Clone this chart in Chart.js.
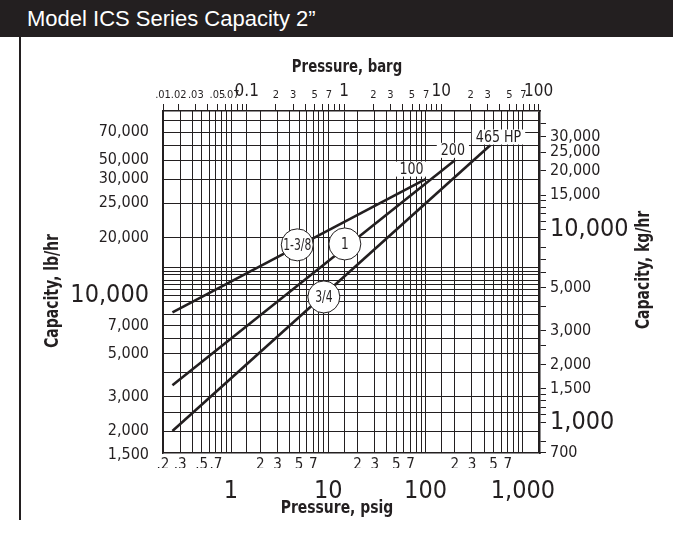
<!DOCTYPE html>
<html>
<head>
<meta charset="utf-8">
<title>Model ICS Series Capacity 2"</title>
<script src="https://cdn.jsdelivr.net/npm/chart.js@4.4.1/dist/chart.umd.min.js"></script>
<style>
  body { margin: 0; background: #fff; }
  #page { position: relative; width: 673px; height: 535px; overflow: hidden; background: #fff; }
  #bar { position: absolute; left: 0; top: 0; width: 673px; height: 37px; background: #231f20; color: #fff;
         font: 22px "Liberation Sans", Arial, sans-serif; line-height: 38px; padding-left: 27px; box-sizing: border-box; }
  #edge { position: absolute; left: 19px; top: 37px; width: 2px; height: 483px; background: #231f20; }
  #chart { position: absolute; left: 0; top: 0; }
</style>
</head>
<body>
<div id="page">
  <canvas id="chart" width="673" height="535"></canvas>
  <div id="bar">Model ICS Series Capacity 2”</div>
  <div id="edge"></div>
</div>
<script>
// pressure axis, psig (bottom) -- gridlines + small labels
const psigTicks = [0.2, 0.3, 0.4, 0.5, 0.6, 0.7, 0.8, 0.9,
  1, 2, 3, 4, 5, 6, 7, 8, 9,
  10, 20, 30, 40, 50, 60, 70, 80, 90,
  100, 200, 300, 400, 500, 600, 700, 800, 900, 1000];
const psigTickLabels = [".2", ".3", "", ".5", "", ".7", "", "",
  "", "2", "3", "", "5", "", "7", "", "",
  "", "2", "3", "", "5", "", "7", "", "",
  "", "2", "3", "", "5", "", "7", "", "", ""];
const psigDecades = [1, 10, 100, 1000];
const psigDecadeLabels = ["1", "10", "100", "1,000"];

// pressure axis, barg (top)
const bargTicks = [0.01, 0.02, 0.03, 0.04, 0.05, 0.06, 0.07, 0.08, 0.09,
  0.1, 0.2, 0.3, 0.4, 0.5, 0.6, 0.7, 0.8, 0.9,
  1, 2, 3, 4, 5, 6, 7, 8, 9,
  10, 20, 30, 40, 50, 60, 70, 80, 90, 100];
const bargTickLabels = [".01", ".02", ".03", "", ".05", "", ".07", "", "",
  "0.1", "2", "3", "", "5", "", "7", "", "",
  "1", "2", "3", "", "5", "", "7", "", "",
  "10", "2", "3", "", "5", "", "7", "", "", "100"];

// capacity, lb/hr (left) -- horizontal gridlines
const lbTicks = [1500, 2000, 2500, 3000, 4000, 5000, 6000, 7000, 8000, 9300,
  10000, 10700, 11400, 12000, 12800, 13400, 14000,
  20000, 30000, 40000, 50000, 60000, 70000, 80000];
const lbTickLabels = ["1,500", "2,000", "", "3,000", "", "5,000", "", "7,000", "", "",
  "10,000", "", "", "", "", "", "",
  "20,000", "25,000", "30,000", "50,000", "", "70,000", ""];

// capacity, kg/hr (right)
const kgTicks = [700, 800, 1000, 1100, 1200, 1300, 1400, 1500, 2000, 2500, 3000, 4000,
  5000, 6000, 7000, 8000, 10000, 11000, 12000, 13000, 14000, 15000,
  20000, 25000, 30000, 35000];
const kgTickLabels = ["700", "", "1,000", "", "", "", "", "1,500", "2,000", "", "3,000", "",
  "5,000", "", "", "", "10,000", "", "", "", "", "15,000",
  "20,000", "25,000", "30,000", ""];

// orifice lines: start / end points (psig, lb/hr)
const orificeSizes = ["1-3/8", "1", "3/4"];
const startPsig = [0.25, 0.25, 0.25];
const startCapacity = [8200, 3450, 2000];
const endPsig = [100, 200, 465];
const endCapacity = [40000, 50000, 60000];
const endLabels = ["100", "200", "465 HP"];
const markerPsig = [4.8, 14.8, 9.0];
const markerCapacity = [18300, 18500, 9850];

const PSI_PER_BAR = 14.5038;
const LB_PER_KG = 2.20462;
const psigMin = 0.2, psigMax = 1500;
const lbMin = 1540, lbMax = 89900;

const ink = "#231f20";
const narrow = "'Liberation Sans Narrow', 'Arial Narrow', 'DejaVu Sans Condensed', sans-serif";

const isDecade = v => Math.abs(Math.log10(v) - Math.round(Math.log10(v))) < 1e-6;
const tickVal = c => (c && c.tick ? c.tick.value : NaN);

const datasets = orificeSizes.map((name, i) => ({
  label: name,
  data: [{ x: startPsig[i], y: startCapacity[i] }, { x: endPsig[i], y: endCapacity[i] }],
  borderColor: ink,
  borderWidth: 2.6,
  pointRadius: 0,
  tension: 0
}));

function squeezed(ctx, text, x, y, sx) {
  ctx.save();
  ctx.translate(x, y);
  ctx.scale(sx, 1);
  ctx.fillText(text, 0, 0);
  ctx.restore();
}

// circles on the lines, HP labels at the ends, axis titles
const endOffsets = [[-14, -10], [-2, -10], [8, -8]];
const decor = {
  id: "decor",
  afterDatasetsDraw(chart) {
    const { ctx, scales } = chart;
    ctx.save();
    ctx.textAlign = "center";
    ctx.textBaseline = "middle";

    ctx.font = "16px " + narrow;
    endLabels.forEach((txt, i) => {
      const x = scales.x.getPixelForValue(endPsig[i]) + endOffsets[i][0];
      const y = scales.y.getPixelForValue(endCapacity[i]) + endOffsets[i][1];
      const w = ctx.measureText(txt).width * 0.88 + 8;
      ctx.fillStyle = "#fff";
      ctx.fillRect(x - w / 2, y - 7.5, w, 15);
      ctx.fillStyle = ink;
      squeezed(ctx, txt, x, y + 1, 0.88);
    });

    ctx.font = "15px " + narrow;
    orificeSizes.forEach((txt, i) => {
      const x = scales.x.getPixelForValue(markerPsig[i]);
      const y = scales.y.getPixelForValue(markerCapacity[i]);
      ctx.beginPath();
      ctx.arc(x, y, 16, 0, Math.PI * 2);
      ctx.fillStyle = "#fff";
      ctx.fill();
      ctx.lineWidth = 1;
      ctx.strokeStyle = ink;
      ctx.stroke();
      ctx.fillStyle = ink;
      squeezed(ctx, txt, x, y + 1, txt.length > 2 ? 0.8 : 0.9);
    });
    ctx.restore();
  },
  afterDraw(chart) {
    const ctx = chart.ctx;
    ctx.save();
    ctx.fillStyle = ink;
    ctx.textAlign = "center";
    ctx.textBaseline = "middle";
    ctx.font = "bold 18px " + narrow;
    squeezed(ctx, "Pressure, barg", 347, 67, 0.82);
    squeezed(ctx, "Pressure, psig", 337, 508, 0.86);
    ctx.font = "bold 19px " + narrow;
    ctx.translate(53, 291);
    ctx.rotate(-Math.PI / 2);
    squeezed(ctx, "Capacity, lb/hr", 0, 0, 0.82);
    ctx.restore();
    ctx.save();
    ctx.fillStyle = ink;
    ctx.textAlign = "center";
    ctx.textBaseline = "middle";
    ctx.font = "bold 19px " + narrow;
    ctx.translate(644, 270);
    ctx.rotate(-Math.PI / 2);
    squeezed(ctx, "Capacity, kg/hr", 0, 0, 0.82);
    ctx.restore();
  }
};

new Chart(document.getElementById("chart"), {
  type: "line",
  data: { datasets },
  plugins: [decor],
  options: {
    responsive: false,
    animation: false,
    layout: { padding: 0, autoPadding: false },
    plugins: { legend: { display: false }, tooltip: { enabled: false } },
    scales: {
      x: {
        type: "logarithmic", position: "bottom", weight: 0,
        min: psigMin, max: psigMax,
        afterBuildTicks: s => { s.ticks = psigTicks.map(v => ({ value: v })); },
        afterFit: s => { s.height = 15; },
        grid: { color: ink, lineWidth: 1, drawTicks: false },
        border: { color: ink, width: 1.5 },
        ticks: {
          autoSkip: false, maxRotation: 0, padding: 3, color: ink,
          font: { family: narrow, size: 15 },
          callback: (v, i) => psigTickLabels[i]
        }
      },
      xBig: {
        type: "logarithmic", axis: "x", position: "bottom", weight: 1,
        min: psigMin, max: psigMax,
        afterBuildTicks: s => { s.ticks = psigDecades.map(v => ({ value: v })); },
        afterFit: s => { s.height = 67; },
        grid: { display: false },
        border: { display: false },
        ticks: {
          autoSkip: false, maxRotation: 0, padding: 0, color: ink,
          font: { family: narrow, size: 25 },
          callback: (v, i) => psigDecadeLabels[i]
        }
      },
      xTop: {
        type: "logarithmic", axis: "x", position: "top",
        min: psigMin / PSI_PER_BAR, max: psigMax / PSI_PER_BAR,
        afterBuildTicks: s => { s.ticks = bargTicks.map(v => ({ value: Math.max(v, s.min) })); },
        afterFit: s => { s.height = 111; },
        grid: {
          color: c => (tickVal(c) >= 0.1 && isDecade(tickVal(c))) ? ink : "rgba(0,0,0,0)",
          tickColor: ink, tickLength: 7, lineWidth: 1
        },
        border: { color: ink, width: 1.5 },
        ticks: {
          autoSkip: false, maxRotation: 0, padding: 2, color: ink,
          font: c => ({ family: narrow, size: (tickVal(c) >= 0.1 && isDecade(tickVal(c))) ? 17 : 11 }),
          callback: (v, i) => bargTickLabels[i]
        }
      },
      y: {
        type: "logarithmic", position: "left",
        min: lbMin, max: lbMax,
        afterBuildTicks: s => { s.ticks = lbTicks.map(v => ({ value: v })); },
        afterFit: s => { s.width = 163; },
        grid: {
          color: c => tickVal(c) < lbMin ? "rgba(0,0,0,0)" : ink,
          lineWidth: 1, drawTicks: false
        },
        border: { color: ink, width: 1.5 },
        ticks: {
          autoSkip: false, padding: 14, color: ink,
          font: c => ({ family: narrow, size: isDecade(tickVal(c)) ? 25 : 16 }),
          callback: (v, i) => lbTickLabels[i]
        }
      },
      y2: {
        type: "logarithmic", axis: "y", position: "right",
        min: lbMin / LB_PER_KG, max: lbMax / LB_PER_KG,
        afterBuildTicks: s => { s.ticks = kgTicks.map(v => ({ value: v })); },
        afterFit: s => { s.width = 133; },
        grid: { drawOnChartArea: false, color: ink, tickLength: 6, lineWidth: 1 },
        border: { color: ink, width: 1.5 },
        ticks: {
          autoSkip: false, padding: 4, color: ink,
          font: c => ({ family: narrow, size: isDecade(tickVal(c)) ? 25 : 16 }),
          callback: (v, i) => kgTickLabels[i]
        }
      }
    }
  }
});
</script>
</body>
</html>
